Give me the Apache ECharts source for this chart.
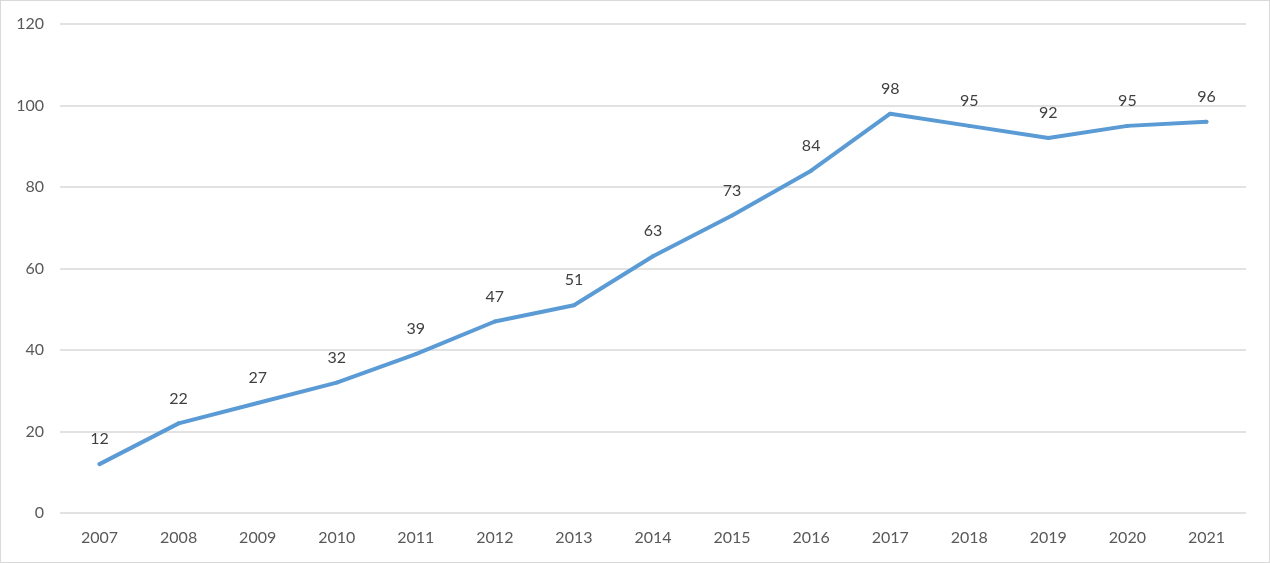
<!DOCTYPE html>
<html><head><meta charset="utf-8">
<script src="https://cdn.jsdelivr.net/npm/echarts@6/dist/echarts.min.js"></script>
<style>html,body{margin:0;padding:0;background:#fff}#c{width:1270px;height:563px;box-sizing:border-box;border:1px solid #d9d9d9}</style>
</head><body><div id="c"></div>
<script>
const years = ['2007','2008','2009','2010','2011','2012','2013','2014','2015','2016','2017','2018','2019','2020','2021'];
const values = [12,22,27,32,39,47,51,63,73,84,98,95,92,95,96];
const yTicks = {min:0,max:120,interval:20};
const chart = echarts.init(document.getElementById('c'));
const font = 'Lato, "Open Sans", sans-serif';
chart.setOption({
  animation:false,
  grid:{left:59,right:23,top:23,bottom:49},
  xAxis:{type:'category',data:years,boundaryGap:true,
    axisLine:{show:false},axisTick:{show:false},
    axisLabel:{color:'#595959',fontSize:16,fontFamily:font,margin:17}},
  yAxis:{type:'value',min:yTicks.min,max:yTicks.max,interval:yTicks.interval,
    axisLine:{show:false},axisTick:{show:false},
    splitLine:{lineStyle:{color:'#d9d9d9',width:1.5}},
    axisLabel:{color:'#595959',fontSize:16,fontFamily:font,margin:16}},
  series:[{type:'line',data:values,symbol:'circle',symbolSize:4,showSymbol:true,showAllSymbol:true,
    itemStyle:{color:'#5b9bd5',borderWidth:0},
    lineStyle:{color:'#5b9bd5',width:4,cap:'round',join:'round'},
    label:{show:true,position:'top',distance:15,color:'#404040',fontSize:16,fontFamily:font}}]
});
</script></body></html>
